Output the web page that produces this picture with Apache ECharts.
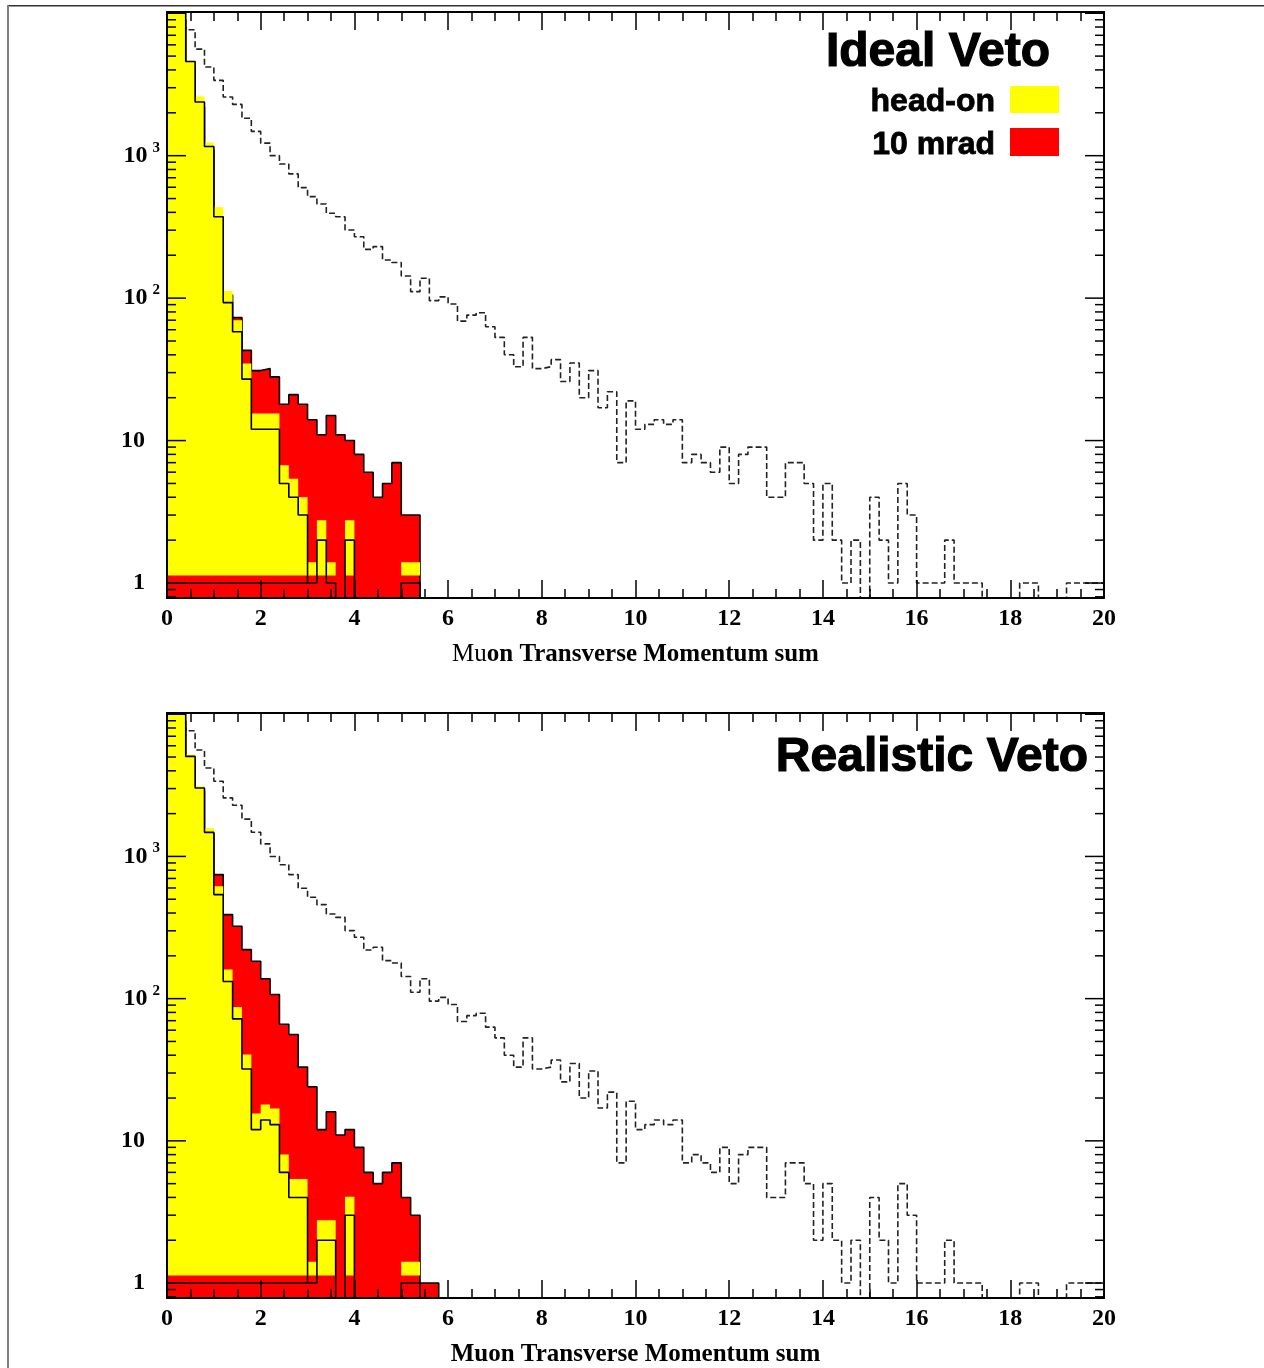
<!DOCTYPE html>
<html><head><meta charset="utf-8">
<script src="https://cdn.jsdelivr.net/npm/echarts@6/dist/echarts.min.js"></script>
<style>html,body{margin:0;padding:0;background:#fff}#c{width:1264px;height:1368px}</style>
</head><body><div id="c"></div>
<script>
// ---------- data ----------
const BIN_WIDTH = 0.2;
const Y_MIN = 0.785, Y_MAX = 10200;
const Y_FILL_BASE = 1.13;           // lower edge of the head-on fill
const X_TICK_LABELS = ['0','2','4','6','8','10','12','14','16','18','20'];
const Y_TICK_LABELS = {1:'1', 10:'10', 100:'10|2', 1000:'10|3'};
const PANEL_TITLES = ['Ideal Veto', 'Realistic Veto'];
const LEGEND_NAMES = ['head-on', '10 mrad'];
const X_TITLE = 'Muon Transverse Momentum sum';

// dashed histogram (identical in both panels), 100 bins of 0.2
const noVeto = [
  20000,8000,7650,5600,4190,3380,2580,2290,1830,1480,
  1225,1000,875,745,597,516,458,394,373,301,
  270,220,230,185,178,143,111,138,96,102,
  91,69,76,79,63,53,40,33,53,32,
  33,37,26,35,20,31,17,22,7,19,
  12,13,14,13,14,7,8,7,6,9,
  5,8,9,9,4,4,7,7,5,2,
  5,2,1,2,0,4,2,1,5,3,
  1,1,1,2,1,1,1,0,0,0,
  0,1,1,0,0,0,1,1,1,1
];

// Ideal veto
const idealHeadOnFill = [30000,12000,4600,2600,1236,435,112,70,34.8,15.5,15.5,15.5,6.7,5.4,4.0,1.4,2.76,1.4,null,2.76,null,null,null,null,null,1.4,1.4];
const idealHeadOnLine = [30000,10100,4580,2380,1160,373,93,58,27,12,12,12,5,4,3,1,2,1,0,2,0,0,0,0,0,1,1];
const ideal10mrad     = [20000,9000,4200,2200,1100,360,105,73,43,31,32,28,18,21,18,14,11,15,11,10,8,6,4,5,7,3,3];

// Realistic veto
const realHeadOnFill = [30000,12000,5200,3110,1585,617,160,87.5,40.5,15.6,18,16.9,8.0,5.4,5.4,1.41,2.76,2.76,null,4.05,null,null,null,null,null,1.41,1.41];
const realHeadOnLine = [30000,10100,5050,3030,1477,539,132,72,32,12,14,13,6,4,4,1,2,2,0,3,0,0,0,0,0,1,1];
const real10mrad     = [20000,9000,4800,2900,1450,745,390,323,221,183,138,107,66,56,33,24,12,16,11,12,9,6,5,6,7,4,3,1,1];

// ---------- helpers ----------
const edge = i => +(i * BIN_WIDTH).toFixed(4);
const floorV = v => (v <= 0 ? Y_MIN : v);
function stepData(vals) {
  const pts = [];
  vals.forEach((v, i) => {
    if (v === null) { pts.push([edge(i), '-']); return; }
    const y = floorV(v);
    pts.push([edge(i), y], [edge(i + 1), y]);
  });
  return pts;
}
function closedStep(vals) {             // drop to floor after last bin
  const pts = stepData(vals);
  pts.push([edge(vals.length), Y_MIN]);
  return pts;
}
function outlineData(vals) {            // outline closed along the level 1 from x=0
  const first = vals.findIndex(v => v !== null && v <= 1);
  const pts = [[edge(first), 1], [0, 1]].concat(stepData(vals));
  pts.push([edge(vals.length), Y_MIN]);
  return pts;
}
// log-axis ticks: [value, length]
const LOG_TICKS = [];
for (let e = -1; e <= 4; e++) for (let m = 1; m <= 9; m++) {
  const v = m * Math.pow(10, e);
  if (v >= Y_MIN && v <= Y_MAX) LOG_TICKS.push([v, m === 1 ? 19 : 9]);
}

const SERIF = 'Liberation Serif';
const SANS = 'Liberation Sans';
const grids = [
  {left: 167, top: 12, width: 937, height: 586},
  {left: 167, top: 713, width: 937, height: 586}
];

function xAxesFor(gi, nameRich) {
  const common = {
    type: 'value', gridIndex: gi, min: 0, max: 20, interval: 2, z: 10,
    splitLine: {show: false},
    axisLine: {show: true, onZero: false, lineStyle: {color: '#000', width: 2}},
    axisTick: {show: true, inside: true, length: 18, lineStyle: {color: '#000', width: 1.5}},
    minorTick: {show: true, splitNumber: 4, length: 9, lineStyle: {color: '#000', width: 1.5}}
  };
  return [
    Object.assign({}, common, {
      position: 'bottom',
      axisLabel: {show: true, margin: 9, color: '#000', fontFamily: SERIF, fontWeight: 'bold', fontSize: 24,
        formatter: v => X_TICK_LABELS[Math.round(v / 2)] ?? ''},
      name: nameRich, nameLocation: 'middle', nameGap: 44,
      nameTextStyle: {color: '#000', fontFamily: SERIF, fontSize: 25,
        rich: {a: {fontFamily: SERIF, fontSize: 25, fontWeight: 'normal', color: '#000'},
               b: {fontFamily: SERIF, fontSize: 25, fontWeight: 'bold', color: '#000'}}}
    }),
    Object.assign({}, common, {position: 'top', axisLabel: {show: false}})
  ];
}
function yAxesFor(gi) {
  const common = {
    type: 'log', logBase: 10, gridIndex: gi, min: Y_MIN, max: Y_MAX, z: 10,
    splitLine: {show: false}, minorTick: {show: false}, axisTick: {show: false},
    axisLine: {show: true, onZero: false, lineStyle: {color: '#000', width: 2}}
  };
  return [
    Object.assign({}, common, {
      position: 'left',
      axisLabel: {show: true, margin: 7, color: '#000',
        formatter: v => {
          const lv = Math.log10(v);
          if (Math.abs(lv - Math.round(lv)) > 1e-6) return '';
          const lab = Y_TICK_LABELS[Math.round(v)];
          if (!lab) return '';
          const parts = lab.split('|');
          return parts.length === 2 ? '{n|' + parts[0] + '}{s|' + parts[1] + '}' : '{n|' + parts[0] + '}{p|}';
        },
        rich: {
          n: {fontFamily: SERIF, fontWeight: 'bold', fontSize: 24, color: '#000'},
          s: {fontFamily: SERIF, fontWeight: 'bold', fontSize: 15, color: '#000', padding: [0, 0, 16, 5]},
          p: {width: 15}
        }},
    }),
    Object.assign({}, common, {position: 'right', axisLabel: {show: false}})
  ];
}

function panelSeries(gi, red, yFill, yLine) {
  const ax = {xAxisIndex: gi * 2, yAxisIndex: gi * 2};
  const base = {type: 'line', symbol: 'none', animation: false, silent: true, clip: true};
  return [
    Object.assign({}, base, ax, {name: 'no veto', z: 2, data: stepData(noVeto),
      lineStyle: {color: '#222', width: 1.6, type: [6, 3]}}),
    Object.assign({}, base, ax, {name: LEGEND_NAMES[1], z: 3, data: closedStep(red),
      lineStyle: {color: '#000', width: 1.6},
      areaStyle: {color: '#ff0000', opacity: 1, origin: 'start'}}),
    Object.assign({}, base, ax, {name: LEGEND_NAMES[0], z: 4, data: stepData(yFill),
      lineStyle: {width: 0, opacity: 0},
      areaStyle: {color: '#ffff00', opacity: 1, origin: Y_FILL_BASE}}),
    Object.assign({}, base, ax, {name: LEGEND_NAMES[0] + ' outline', z: 5, data: outlineData(yLine),
      lineStyle: {color: '#000', width: 1.6}}),
    {type: 'custom', xAxisIndex: gi * 2, yAxisIndex: gi * 2, z: 20, silent: true, animation: false,
      data: LOG_TICKS.map(t => [0, t[0], t[1]]), encode: {x: 0, y: 1},
      renderItem: (params, api) => {
        const v = api.value(1), len = api.value(2);
        const l = api.coord([0, v]), r = api.coord([20, v]);
        return {type: 'group', children: [
          {type: 'line', shape: {x1: l[0], y1: l[1], x2: l[0] + len, y2: l[1]}, style: {stroke: '#000', lineWidth: 1.5}},
          {type: 'line', shape: {x1: r[0] - len, y1: r[1], x2: r[0], y2: r[1]}, style: {stroke: '#000', lineWidth: 1.5}}
        ]};
      }}
  ];
}

const chart = echarts.init(document.getElementById('c'), null, {renderer: 'canvas'});
chart.setOption({
  backgroundColor: '#fff',
  animation: false,
  grid: grids,
  xAxis: xAxesFor(0, '{a|Mu}{b|' + X_TITLE.slice(2) + '}').concat(xAxesFor(1, '{b|' + X_TITLE + '}')),
  yAxis: yAxesFor(0).concat(yAxesFor(1)),
  series: panelSeries(0, ideal10mrad, idealHeadOnFill, idealHeadOnLine)
    .concat(panelSeries(1, real10mrad, realHeadOnFill, realHeadOnLine)),
  graphic: [
    {type: 'rect', shape: {x: 8, y: 5, width: 1256, height: 1.6}, style: {fill: '#333'}},
    {type: 'rect', shape: {x: 7, y: 5, width: 2, height: 1363}, style: {fill: '#808080'}},
    {type: 'text', x: 1050, y: 53, style: {text: PANEL_TITLES[0], font: 'bold 48px ' + SANS, fill: '#000',
      stroke: '#000', lineWidth: 1.2, align: 'right', verticalAlign: 'middle'}},
    {type: 'text', x: 995, y: 102, style: {text: LEGEND_NAMES[0], font: 'bold 32px ' + SANS, fill: '#000',
      stroke: '#000', lineWidth: 0.8, align: 'right', verticalAlign: 'middle'}},
    {type: 'text', x: 995, y: 145, style: {text: LEGEND_NAMES[1], font: 'bold 32px ' + SANS, fill: '#000',
      stroke: '#000', lineWidth: 0.8, align: 'right', verticalAlign: 'middle'}},
    {type: 'rect', shape: {x: 1010, y: 86, width: 49, height: 27}, style: {fill: '#ffff00'}},
    {type: 'rect', shape: {x: 1010, y: 128, width: 49, height: 28}, style: {fill: '#ff0000'}},
    {type: 'text', x: 1088, y: 758, style: {text: PANEL_TITLES[1], font: 'bold 48px ' + SANS, fill: '#000',
      stroke: '#000', lineWidth: 1.2, align: 'right', verticalAlign: 'middle'}}
  ]
});
</script></body></html>
